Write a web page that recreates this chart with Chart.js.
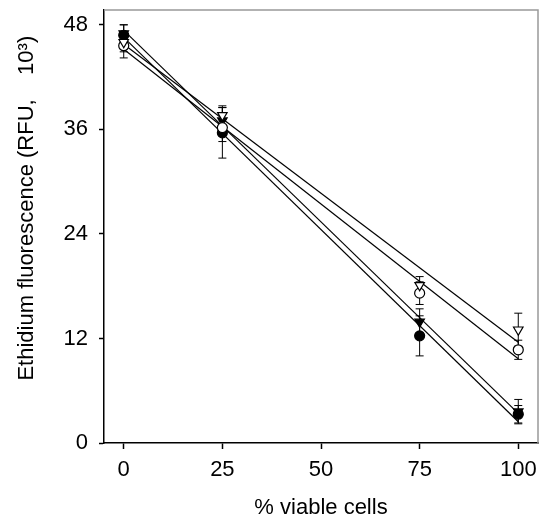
<!DOCTYPE html>
<html>
<head>
<meta charset="utf-8">
<script src="https://cdn.jsdelivr.net/npm/chart.js@4/dist/chart.umd.min.js"></script>
<style>
html,body{margin:0;padding:0;background:#fff}
</style>
</head>
<body>
<canvas id="chart" width="547" height="522"></canvas>
<script>
// % viable cells
const viable = [0, 25, 75, 100];

// ethidium fluorescence (RFU, x10^3) per series, with error
const filledCircle = [46.8, 35.6, 12.3, 3.3];
const filledCircleErr = [1.2, 2.9, 2.3, 1.0];

const filledTriangle = [47.0, 37.0, 13.9, 3.6];
const filledTriangleErr = [1.0, 1.5, 1.5, 1.4];

const openCircle = [45.6, 36.2, 17.2, 10.7];
const openCircleErr = [1.4, 1.6, 1.3, 1.1];

const openTriangle = [46.0, 37.6, 18.1, 13.0];
const openTriangleErr = [1.1, 1.1, 1.0, 1.9];

const xTicks = [0, 25, 50, 75, 100];
const yTicks = [0, 12, 24, 36, 48];


function points(ys, errs) {
  return viable.map((x, i) => ({x: x, y: ys[i], err: errs[i]}));
}

// least squares line through a series, from first to last x
function fitLine(ys) {
  const n = viable.length;
  const mx = viable.reduce((a, b) => a + b, 0) / n;
  const my = ys.reduce((a, b) => a + b, 0) / n;
  let sxy = 0, sxx = 0;
  viable.forEach((x, i) => {
    sxy += (x - mx) * (ys[i] - my);
    sxx += (x - mx) * (x - mx);
  });
  const slope = sxy / sxx;
  const icpt = my - slope * mx;
  const x0 = viable[0], x1 = viable[n - 1];
  return [{x: x0, y: icpt + slope * x0}, {x: x1, y: icpt + slope * x1}];
}

function lineSet(ys) {
  return {
    data: fitLine(ys),
    showLine: true,
    borderColor: "#000",
    borderWidth: 1.2,
    pointRadius: 0,
    order: 2
  };
}

function pointSet(ys, errs, style, filled) {
  return {
    data: points(ys, errs),
    showLine: false,
    pointStyle: style,
    rotation: style === "triangle" ? 180 : 0,
    pointRadius: style === "triangle" ? 5.5 : 5,
    pointBackgroundColor: filled ? "#000" : "#fff",
    pointBorderColor: "#000",
    pointBorderWidth: 1.2,
    errorBars: true,
    order: 1
  };
}

const errorBars = {
  id: "errorBars",
  beforeDatasetsDraw(chart) {
    const ctx = chart.ctx;
    const xs = chart.scales.x, ys = chart.scales.y;
    ctx.save();
    ctx.strokeStyle = "#000";
    ctx.lineWidth = 1;
    chart.data.datasets.forEach(ds => {
      if (!ds.errorBars) return;
      ds.data.forEach(p => {
        const px = xs.getPixelForValue(p.x);
        const top = ys.getPixelForValue(p.y + p.err);
        const bot = ys.getPixelForValue(p.y - p.err);
        ctx.beginPath();
        ctx.moveTo(px, top); ctx.lineTo(px, bot);
        ctx.moveTo(px - 4, top); ctx.lineTo(px + 4, top);
        ctx.moveTo(px - 4, bot); ctx.lineTo(px + 4, bot);
        ctx.stroke();
      });
    });
    ctx.restore();
  }
};

const frame = {
  id: "frame",
  afterDraw(chart) {
    const a = chart.chartArea;
    const ctx = chart.ctx;
    ctx.save();
    ctx.strokeStyle = "#999";
    ctx.lineWidth = 1.5;
    ctx.beginPath();
    ctx.moveTo(a.left, a.top);
    ctx.lineTo(a.right, a.top);
    ctx.lineTo(a.right, a.bottom);
    ctx.stroke();
    ctx.restore();
  }
};

const font = {family: "'Liberation Sans', Arial, sans-serif", size: 22};

new Chart(
document.getElementById("chart"),
{
type: "scatter",
data: {
  datasets: [
    lineSet(openTriangle),
    lineSet(openCircle),
    lineSet(filledTriangle),
    lineSet(filledCircle),
    pointSet(openTriangle, openTriangleErr, "triangle", false),
    pointSet(openCircle, openCircleErr, "circle", false),
    pointSet(filledTriangle, filledTriangleErr, "triangle", true),
    pointSet(filledCircle, filledCircleErr, "circle", true)
  ]
},
options: {
  responsive: false,
  animation: false,
  layout: {padding: {top: 10, right: 9, left: 0, bottom: 0}},
  plugins: {legend: {display: false}, tooltip: {enabled: false}},
  scales: {
    x: {
      type: "linear",
      min: -5,
      max: 105,
      afterFit: s => { s.height = 79; s.paddingLeft = 0; s.paddingRight = 0; },
      afterBuildTicks: s => { s.ticks = xTicks.map(v => ({value: v})); },
      grid: {drawOnChartArea: false, tickLength: 6, tickColor: "#000", tickWidth: 1.5},
      border: {color: "#000", width: 1.5},
      ticks: {color: "#000", font: font, padding: 8, maxRotation: 0},
      title: {display: true, text: "% viable cells", color: "#000", font: font, padding: {top: 0, bottom: 1}}
    },
    y: {
      type: "linear",
      min: 0,
      max: 49.7,
      afterFit: s => { s.width = 104; s.paddingTop = 0; s.paddingBottom = 0; },
      afterBuildTicks: s => { s.ticks = yTicks.map(v => ({value: v})); },
      grid: {drawOnChartArea: false, tickLength: 5, tickColor: "#000", tickWidth: 1.5},
      border: {color: "#000", width: 1.5},
      ticks: {color: "#000", font: font, padding: 11},
      title: {display: true, text: "      Ethidium fluorescence (RFU,    10³)", color: "#000", font: font, padding: {top: 14, bottom: 0}}
    }
  }
},
plugins: [errorBars, frame]
});
</script>
</body>
</html>
